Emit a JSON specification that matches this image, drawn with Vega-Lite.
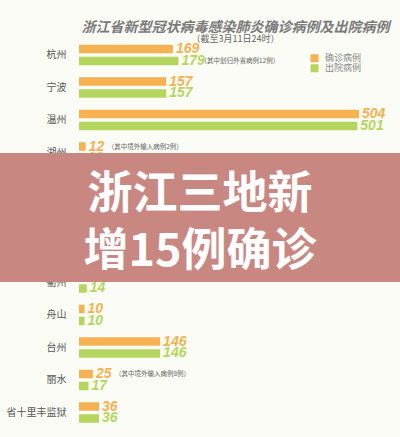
{
  "$schema": "https://vega.github.io/schema/vega-lite/v6.json",
  "width": 321,
  "height": 390,
  "autosize": "none",
  "padding": {"left": 79, "top": 38.75, "right": 0, "bottom": 8.25},
  "background": "#fbfcf5",
  "config": {"view": {"stroke": null}, "font": "Noto Sans CJK SC"},
  "title": {
    "text": "浙江省新型冠状病毒感染肺炎确诊病例及出院病例",
    "subtitle": "（截至3月11日24时）",
    "fontSize": 14,
    "fontWeight": "bold",
    "fontStyle": "italic",
    "color": "#7a7a7a",
    "subtitleFontSize": 9,
    "subtitleColor": "#666666",
    "subtitlePadding": 0,
    "anchor": "middle",
    "offset": -5,
    "dx": -4
  },
  "data": {
    "values": [
      {"city": "杭州", "type": "确诊病例", "value": 169, "note": ""},
      {"city": "杭州", "type": "出院病例", "value": 179, "note": "（其中划归外省病例12例）"},
      {"city": "宁波", "type": "确诊病例", "value": 157, "note": ""},
      {"city": "宁波", "type": "出院病例", "value": 157, "note": ""},
      {"city": "温州", "type": "确诊病例", "value": 504, "note": ""},
      {"city": "温州", "type": "出院病例", "value": 501, "note": ""},
      {"city": "湖州", "type": "确诊病例", "value": 12, "note": "（其中境外输入病例2例）"},
      {"city": "湖州", "type": "出院病例", "value": 10, "note": ""},
      {"city": "嘉兴", "type": "确诊病例", "value": 46, "note": ""},
      {"city": "嘉兴", "type": "出院病例", "value": 46, "note": ""},
      {"city": "绍兴", "type": "确诊病例", "value": 42, "note": ""},
      {"city": "绍兴", "type": "出院病例", "value": 42, "note": ""},
      {"city": "金华", "type": "确诊病例", "value": 55, "note": ""},
      {"city": "金华", "type": "出院病例", "value": 55, "note": ""},
      {"city": "衢州", "type": "确诊病例", "value": 14, "note": ""},
      {"city": "衢州", "type": "出院病例", "value": 14, "note": ""},
      {"city": "舟山", "type": "确诊病例", "value": 10, "note": ""},
      {"city": "舟山", "type": "出院病例", "value": 10, "note": ""},
      {"city": "台州", "type": "确诊病例", "value": 146, "note": ""},
      {"city": "台州", "type": "出院病例", "value": 146, "note": ""},
      {"city": "丽水", "type": "确诊病例", "value": 25, "note": "（其中境外输入病例8例）"},
      {"city": "丽水", "type": "出院病例", "value": 17, "note": ""},
      {"city": "省十里丰监狱", "type": "确诊病例", "value": 36, "note": ""},
      {"city": "省十里丰监狱", "type": "出院病例", "value": 36, "note": ""}
    ]
  },
  "encoding": {
    "y": {
      "field": "city",
      "type": "nominal",
      "sort": null,
      "scale": {"paddingInner": 0, "paddingOuter": 0},
      "axis": {
        "title": null,
        "domain": false,
        "ticks": false,
        "labelFontSize": 10,
        "labelColor": "#555555",
        "labelPadding": 13
      }
    }
  },
  "layer": [
    {
      "mark": {"type": "bar", "cornerRadius": 0},
      "encoding": {
        "x": {
          "field": "value",
          "type": "quantitative",
          "scale": {"domain": [0, 577.8], "nice": false, "zero": true},
          "axis": null
        },
        "yOffset": {
          "field": "type",
          "type": "nominal",
          "sort": ["确诊病例", "出院病例"],
          "scale": {"paddingInner": 0.29, "paddingOuter": 0.5}
        },
        "color": {
          "field": "type",
          "type": "nominal",
          "scale": {"domain": ["确诊病例", "出院病例"], "range": ["#f5b152", "#b5d65e"]},
          "legend": {
            "title": null,
            "orient": "none",
            "legendX": 231,
            "legendY": 15,
            "symbolType": "square",
            "symbolSize": 64,
            "symbolStrokeWidth": 0,
            "labelFontSize": 9,
            "labelColor": "#888888",
            "rowPadding": 0,
            "labelOffset": 6
          }
        }
      }
    },
    {
      "mark": {"type": "text", "align": "left", "baseline": "middle", "dx": 3, "fontSize": 14, "fontWeight": "bold", "fontStyle": "italic", "font": "Liberation Sans Narrow, Liberation Sans"},
      "encoding": {
        "x": {"field": "value", "type": "quantitative"},
        "text": {"field": "value", "type": "quantitative"},
        "yOffset": {
          "field": "type",
          "type": "nominal",
          "sort": ["确诊病例", "出院病例"],
          "scale": {"paddingInner": 0.29, "paddingOuter": 0.5}
        },
        "color": {"field": "type", "type": "nominal", "legend": null}
      }
    },
    {
      "transform": [{"filter": "datum.note != ''"}],
      "mark": {"type": "text", "align": "left", "baseline": "middle", "dx": 22, "fontSize": 6.5, "color": "#666666"},
      "encoding": {
        "x": {"field": "value", "type": "quantitative"},
        "text": {"field": "note"},
        "yOffset": {
          "field": "type",
          "type": "nominal",
          "sort": ["确诊病例", "出院病例"],
          "scale": {"paddingInner": 0.29, "paddingOuter": 0.5}
        }
      }
    },
    {
      "data": {"values": [{"row": "绍兴", "headline": ["浙江三地新", "增15例确诊"]}]},
      "layer": [
        {
          "mark": {"type": "bar", "color": "#c98782", "clip": false, "height": {"band": 3.97}},
          "encoding": {
            "y": {"field": "row", "type": "nominal", "sort": null},
            "x": {"datum": -142.2, "type": "quantitative"},
            "x2": {"datum": 577.8}
          }
        },
        {
          "mark": {"type": "text", "color": "#ffffff", "fontSize": 45, "fontWeight": "bold", "font": "Noto Sans CJK SC", "baseline": "middle", "align": "center", "lineHeight": 57, "dy": -23},
          "encoding": {
            "y": {"field": "row", "type": "nominal", "sort": null},
            "x": {"datum": 217.8, "type": "quantitative"},
            "text": {"field": "headline"}
          }
        }
      ]
    }
  ]
}
